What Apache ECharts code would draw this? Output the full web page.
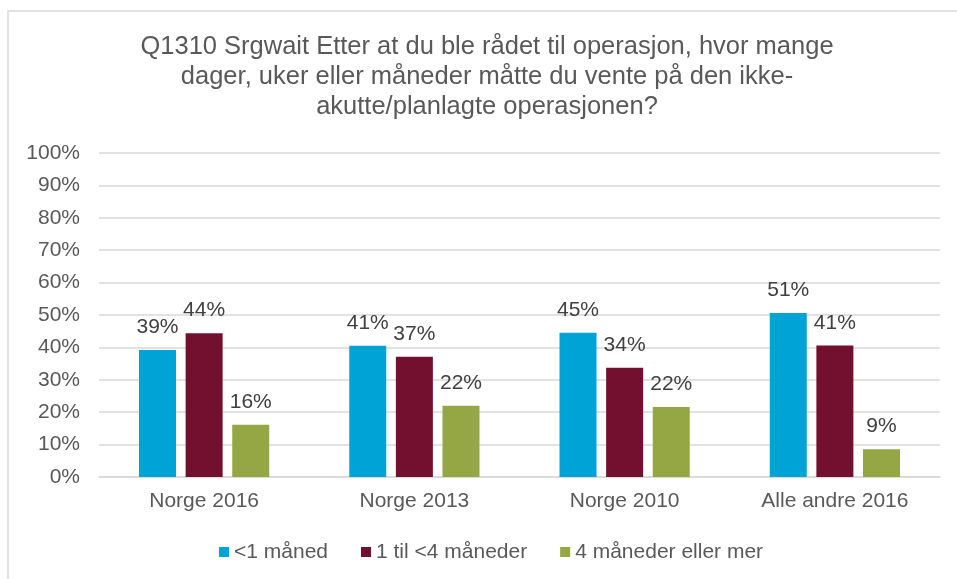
<!DOCTYPE html>
<html>
<head>
<meta charset="utf-8">
<script src="https://cdn.jsdelivr.net/npm/echarts@6/dist/echarts.min.js"></script>
<style>
  html, body { margin: 0; padding: 0; background: #fff; }
  #chart { width: 957px; height: 579px; }
</style>
</head>
<body>
<div id="chart"></div>
<script>
  // data (percent)
  const categories = ['Norge 2016', 'Norge 2013', 'Norge 2010', 'Alle andre 2016']
  const seriesNames = ['<1 måned', '1 til <4 måneder', '4 måneder eller mer']
  const underOne = [39.2, 40.5, 44.5, 50.6]
  const oneToFour = [44.4, 37.1, 33.7, 40.6]
  const fourPlus = [16.1, 22.0, 21.6, 8.6]
  const colors = ['#00A3D5', '#731030', '#95A645']
  const titleText = 'Q1310 Srgwait Etter at du ble rådet til operasjon, hvor mange\n' +
    'dager, uker eller måneder måtte du vente på den ikke-\n' +
    'akutte/planlagte operasjonen?'

  const font = '"Liberation Sans", Arial, sans-serif'

  const chart = echarts.init(document.getElementById('chart'), null, { renderer: 'canvas' })

  function bar (name, data, color) {
    return {
      name: name,
      type: 'bar',
      data: data,
      barWidth: 37,
      barGap: '26%',
      itemStyle: { color: color },
      label: {
        show: true,
        position: 'top',
        distance: 12,
        color: '#404040',
        fontFamily: font,
        fontSize: 21,
        formatter: function (p) { return Math.round(p.value) + '%' }
      }
    }
  }

  chart.setOption({
    animation: false,
    color: colors,
    graphic: [
      {
        type: 'rect',
        shape: { x: 8, y: 11, width: 1000, height: 1000 },
        style: { fill: 'none', stroke: '#d9d9d9', lineWidth: 1.5 },
        silent: true
      },
      {
        type: 'text',
        x: 487,
        y: 32,
        style: {
          text: titleText,
          font: '25.5px ' + font,
          fill: '#595959',
          align: 'center',
          textAlign: 'center',
          verticalAlign: 'top',
          textVerticalAlign: 'top',
          lineHeight: 30
        }
      }
    ],
    grid: {
      left: 99,
      right: 17,
      top: 153,
      bottom: 102,
      containLabel: false
    },
    legend: {
      left: 219,
      top: 541,
      padding: 0,
      itemWidth: 10,
      itemHeight: 10,
      itemGap: 33,
      icon: 'rect',
      textStyle: { color: '#595959', fontFamily: font, fontSize: 21, lineHeight: 22 },
      data: seriesNames
    },
    xAxis: {
      type: 'category',
      data: categories,
      axisLine: { lineStyle: { color: '#d9d9d9', width: 1.5 } },
      axisTick: { show: false },
      axisLabel: { color: '#595959', fontFamily: font, fontSize: 21, margin: 14 }
    },
    yAxis: {
      type: 'value',
      min: 0,
      max: 100,
      interval: 10,
      axisLine: { show: false },
      axisTick: { show: false },
      splitLine: { lineStyle: { color: '#d9d9d9', width: 1.5 } },
      axisLabel: {
        color: '#595959',
        fontFamily: font,
        fontSize: 21,
        margin: 19,
        formatter: '{value}%'
      }
    },
    series: [
      bar(seriesNames[0], underOne, colors[0]),
      bar(seriesNames[1], oneToFour, colors[1]),
      bar(seriesNames[2], fourPlus, colors[2])
    ]
  })
</script>
</body>
</html>
